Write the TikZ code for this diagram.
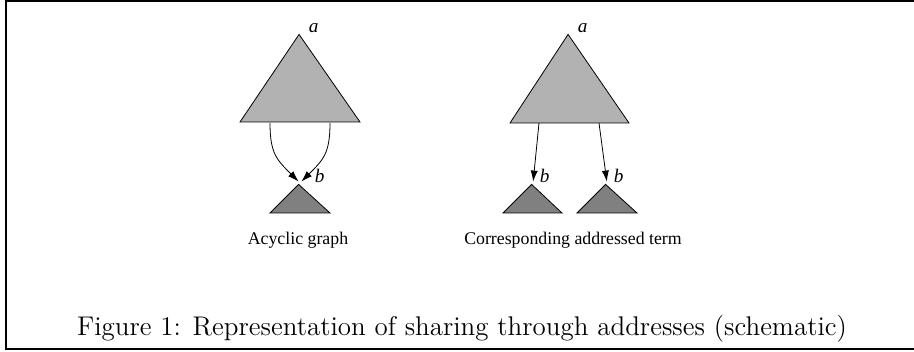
\documentclass[tikz,border=0pt]{standalone}
\usepackage{fontspec}
\newfontfamily\timesfont{Liberation Serif}
\usetikzlibrary{arrows.meta}

\begin{document}
\begin{tikzpicture}[x=0.5pt, y=0.5pt,
        lbl/.style = {anchor=base west, inner sep=0pt,
                      font=\timesfont\itshape\fontsize{9.6}{11}\selectfont},
 tip/.style 2 args = {inner sep=0pt, node contents={},
                      label={[lbl, label distance=#1]right:#2}},
     bigtri/.style = {draw, fill=black!30, line width=0.4pt},
   smalltri/.style = {draw, fill=black!50, line width=0.4pt},
       txt/.style = {anchor=base, inner sep=0pt,
                     font=\timesfont\fontsize{8.9}{10}\selectfont},
every edge/.style = {draw, line width=0.4pt, -{Latex[length=5.5pt,width=3.6pt]}}
                        ]
\useasboundingbox (0,0) rectangle (914,-352);
\draw[line width=1pt] (914,-1) -- (6,-1) -- (6,-349) -- (914,-349);

% acyclic graph
\node (topL) at (300,-33) [tip={3.5pt}{a}];
\node (subL) at (300,-183) [tip={6.5pt}{b}];
\coordinate (l1) at (270,-123);
\coordinate (l2) at (330,-123);
\fill[bigtri] (topL) -- ++(-60,-89) -- ++(120,0) -- cycle;
\fill[smalltri] (subL) -- ++(-30,-30) -- ++(60,0) -- cycle;
\node (capL) at (298,-244) [txt] {Acyclic graph};

% addressed term
\node (topR) at (569,-33) [tip={3.5pt}{a}];
\node (subR1) at (533,-183) [tip={2.5pt}{b}];
\node (subR2) at (607,-183) [tip={2.5pt}{b}];
\coordinate (r1) at (539,-123);
\coordinate (r2) at (599,-123);
\fill[bigtri] (topR) -- ++(-59,-90) -- ++(119,0) -- cycle;
\fill[smalltri] (subR1) -- ++(-30,-30) -- ++(59,0) -- cycle;
\fill[smalltri] (subR2) -- ++(-30,-30) -- ++(60,0) -- cycle;
\node (capR) at (573,-244) [txt] {Corresponding addressed term};

%

\path   (l1) edge[out=-90, in=135, looseness=1.2] (subL)
        (l2) edge[out=-90, in=45, looseness=1.2] (subL)
        (r1) edge (subR1)
        (r2) edge (subR2);

\node (fig) at (462,-335) [anchor=base, inner sep=0pt,
        font=\fontsize{13.5}{16}\selectfont\addfontfeatures{FakeBold=0.3}]
        {Figure 1: Representation of sharing through addresses (schematic)};
\end{tikzpicture}
\end{document}
